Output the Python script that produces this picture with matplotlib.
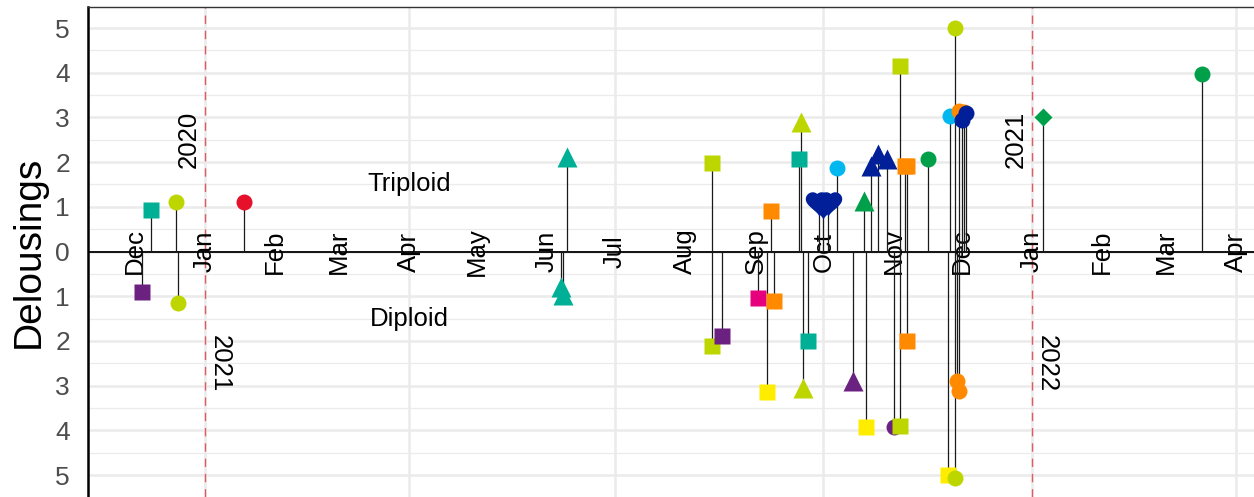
import numpy as np
import pandas as pd
import matplotlib
matplotlib.use('Agg')
import matplotlib.pyplot as plt
import matplotlib.dates as mdates
from matplotlib.path import Path
from matplotlib.ticker import FuncFormatter, MultipleLocator

plt.rcParams['font.family'] = ['Liberation Sans', 'DejaVu Sans']

# Treatment dates, number of delousings (diploid shown negative), farm and treatment type
dates = ['2020-12-08', '2020-12-19', '2021-01-18', '2021-06-10', '2021-08-13',
         '2021-09-08', '2021-09-20', '2021-09-21', '2021-09-29', '2021-10-01',
         '2021-10-03', '2021-10-07', '2021-10-19', '2021-10-22', '2021-10-25',
         '2021-10-29', '2021-11-04', '2021-11-06', '2021-11-07', '2021-11-16',
         '2021-11-26', '2021-11-28', '2021-11-30', '2021-12-02', '2021-12-01',
         '2021-12-03', '2022-01-06', '2022-03-17',
         '2020-12-04', '2020-12-20', '2021-06-07', '2021-06-08', '2021-08-13',
         '2021-08-17', '2021-09-02', '2021-09-06', '2021-09-09', '2021-09-22',
         '2021-09-24', '2021-10-14', '2021-10-20', '2021-11-01', '2021-11-04',
         '2021-11-07', '2021-11-25', '2021-11-28', '2021-11-29', '2021-11-30']
delousings = [0.92, 1.10, 1.10, 2.12, 1.97,
              0.90, 2.08, 2.90, 1.10, 1.05,
              1.10, 1.88, 1.14, 1.92, 2.18,
              2.08, 4.14, 1.92, 1.92, 2.08,
              3.04, 4.99, 3.15, 3.12, 2.95,
              3.10, 3.00, 3.98,
              -0.90, -1.16, -0.80, -0.97, -2.12,
              -1.88, -1.04, -3.15, -1.10, -3.05,
              -2.00, -2.90, -3.93, -3.92, -3.90,
              -1.99, -5.00, -5.06, -2.89, -3.13]
farm = ['A', 'B', 'C', 'A', 'B',
        'F', 'A', 'B', 'I', 'I',
        'I', 'H', 'J', 'I', 'I',
        'I', 'B', 'F', 'F', 'J',
        'H', 'B', 'F', 'F', 'I',
        'I', 'J', 'J',
        'D', 'B', 'A', 'A', 'B',
        'D', 'E', 'G', 'F', 'B',
        'A', 'D', 'G', 'D', 'B',
        'F', 'G', 'B', 'F', 'F']
kind = [1, 2, 2, 3, 1,
        1, 1, 3, 5, 5,
        5, 2, 3, 3, 3,
        3, 1, 1, 1, 2,
        2, 2, 2, 2, 2,
        2, 4, 2,
        1, 2, 3, 3, 1,
        1, 1, 1, 1, 3,
        1, 3, 1, 2, 1,
        1, 1, 2, 2, 2]

year_breaks = ['2021-01-01', '2022-01-01']

farm_colors = {'A': '#00B096', 'B': '#BDD600', 'C': '#E6102B', 'D': '#6A2180',
               'E': '#E6007E', 'F': '#FF8A00', 'G': '#FFED00', 'H': '#00B7EF',
               'I': '#001F98', 'J': '#00A04A'}

t = np.linspace(0, 2 * np.pi, 120)
heart = Path(np.column_stack([16 * np.sin(t) ** 3,
                              13 * np.cos(t) - 5 * np.cos(2 * t) - 2 * np.cos(3 * t) - np.cos(4 * t)]))
kind_marker = {1: ('s', 11.5), 2: ('o', 11.5), 3: ('^', 14.5), 4: ('D', 9.5), 5: (heart, 21)}

x = pd.to_datetime(dates)

fig = plt.figure(figsize=(12.54, 4.97), dpi=100)
ax = fig.add_axes([88 / 1254, 0, 1 - 88 / 1254, 490 / 497])

# grid
ax.set_ylim(-5.49, 5.47)
ax.yaxis.set_major_locator(MultipleLocator(1))
ax.yaxis.set_minor_locator(MultipleLocator(0.5))
ax.yaxis.set_major_formatter(FuncFormatter(lambda v, p: f'{abs(int(round(v)))}'))
ax.grid(axis='y', which='major', color='#EBEBEB', lw=1.8, zorder=0)
ax.grid(axis='y', which='minor', color='#EBEBEB', lw=0.9, zorder=0)
ax.xaxis.set_major_locator(mdates.MonthLocator(bymonth=[1, 4, 7, 10]))
ax.grid(axis='x', which='major', color='#EBEBEB', lw=1.8, zorder=0)
ax.set_axisbelow(True)

jan21 = pd.Timestamp('2021-01-01')
ax.set_xlim(jan21 - pd.Timedelta(days=51.7), jan21 + pd.Timedelta(days=463.1))

for b in year_breaks:
    ax.axvline(pd.Timestamp(b), color='#E05A60', lw=1.0, ls=(0, (6, 5)), zorder=1)
    yr = pd.Timestamp(b).year
    ax.annotate(str(yr - 1), (pd.Timestamp(b), 2.5), xytext=(-3, 0), textcoords='offset points',
                rotation=90, ha='right', va='center', fontsize=18.5)
    ax.annotate(str(yr), (pd.Timestamp(b), -2.5), xytext=(2, 0), textcoords='offset points',
                rotation=270, ha='left', va='center', fontsize=18.5)

ax.axhline(0, color='black', lw=1.3, zorder=2)

# month labels along the zero line
months = pd.date_range('2020-12-01', '2022-04-01', freq='MS')
for m in months:
    ax.text(m, 0, m.strftime('%b'), rotation=90, ha='center', va='center', fontsize=18.5, zorder=3)

ax.text(pd.Timestamp('2021-04-01'), 1.5, 'Triploid', ha='center', va='center', fontsize=18.5)
ax.text(pd.Timestamp('2021-04-01'), -1.5, 'Diploid', ha='center', va='center', fontsize=18.5)

# stems and points
ax.vlines(x, 0, delousings, color='#1A1A1A', lw=0.9, zorder=4)
for xi, yi, f, k in zip(x, delousings, farm, kind):
    mk, ms = kind_marker[k]
    ax.plot(xi, yi, marker=mk, ms=ms, color=farm_colors[f], mec='none', ls='none', zorder=5)

for s in ['right', 'bottom']:
    ax.spines[s].set_visible(False)
ax.spines['left'].set_color('black')
ax.spines['left'].set_linewidth(1.8)
ax.spines['top'].set_color('#333333')
ax.spines['top'].set_linewidth(1.0)

ax.tick_params(axis='x', length=0, labelbottom=False)
ax.tick_params(axis='y', which='both', length=0, labelsize=19, labelcolor='#4D4D4D', pad=13)
ax.set_ylabel('Delousings', fontsize=28, labelpad=6)

fig.savefig('out.png', dpi=100)
